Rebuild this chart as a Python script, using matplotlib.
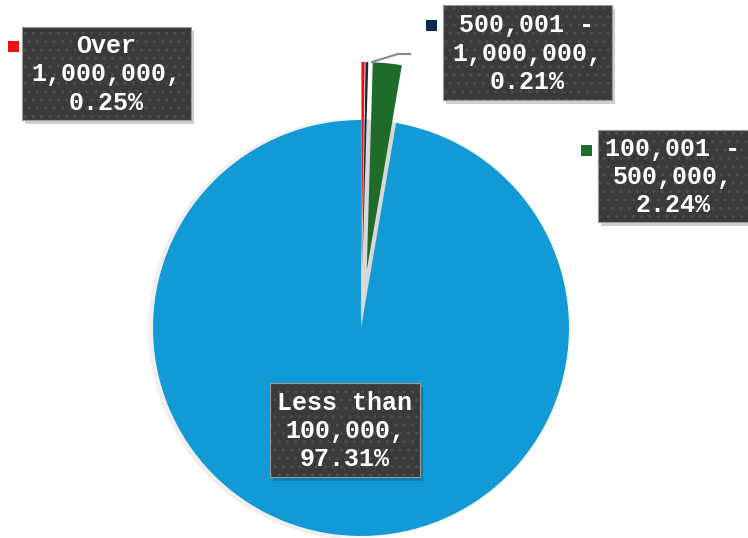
import matplotlib
matplotlib.use("Agg")
import matplotlib.pyplot as plt
from matplotlib.patches import Wedge, Rectangle

# data
categories = ["Over\n1,000,000,\n0.25%", "500,001 -\n1,000,000,\n0.21%",
              "100,001 -\n500,000,\n2.24%", "Less than\n100,000,\n97.31%"]
values = [0.25, 0.21, 2.24, 97.31]
colors = ["#ee1111", "#0d2a4a", "#1e6b2a", "#129ad6"]
explode_px = [58, 58, 58, 0]

W, H = 748, 538
fig = plt.figure(figsize=(W / 100, H / 100), dpi=100)
ax = fig.add_axes([0, 0, 1, 1])

cx, cy, r = 361, H - 328, 208

# faint shadow where the exploded slices used to sit
small = sum(values[:3]) / sum(values) * 360
ax.add_patch(Wedge((cx, cy), r, 90 - small - 0.6, 90 + 0.3, color="#d9d9d9", zorder=1))
ax.add_patch(Wedge((cx - 2, cy - 1), r + 2, 95, 265, color="#efefef", zorder=0))

wedges, _ = ax.pie(values, colors=colors, startangle=90, counterclock=False,
                   explode=explode_px, center=(cx, cy), radius=r,
                   wedgeprops=dict(linewidth=0), frame=True)
for w in wedges:
    w.set_zorder(2)
ax.set_xlim(0, W)
ax.set_ylim(0, H)
ax.set_aspect("equal")
ax.axis("off")

# leader line for the navy slice
ax.plot([372, 398, 410], [H - 62, H - 54, H - 54], color="#888888", lw=1.5, zorder=3)

font = dict(family=["Liberation Mono", "DejaVu Sans Mono"], weight="bold",
            size=18, color="white", ha="center", va="center", linespacing=1.22, zorder=7)

# label boxes: (x0, y0, x1, y1) in pixel coords from top
boxes = [(22, 27, 191, 120), (443, 5, 612, 100), (598, 130, 760, 222), (270, 383, 420, 477)]
text_x = [106, 527, 673, 345]
markers = [(8, 41), (426, 20), (581, 145), None]

for lab, (x0, y0, x1, y1), tx, mk, col in zip(categories, boxes, text_x, markers, colors):
    ax.add_patch(Rectangle((x0 + 3, H - y1 - 4), x1 - x0, y1 - y0, fc="#00000030",
                           ec="none", zorder=4))
    ax.add_patch(Rectangle((x0, H - y1), x1 - x0, y1 - y0, fc="#3a3a3a",
                           ec="#4d4d4d", lw=0, hatch="..", zorder=5))
    ax.add_patch(Rectangle((x0, H - y1), x1 - x0, y1 - y0, fc="none",
                           ec="#9a9a9a", lw=0.8, zorder=6))
    ax.text(tx, H - (y0 + y1) / 2 - 1, lab, **font)
    if mk:
        ax.add_patch(Rectangle((mk[0], H - mk[1] - 11), 11, 11, fc=col, ec="none", zorder=5))

fig.savefig("out.png", dpi=100)
